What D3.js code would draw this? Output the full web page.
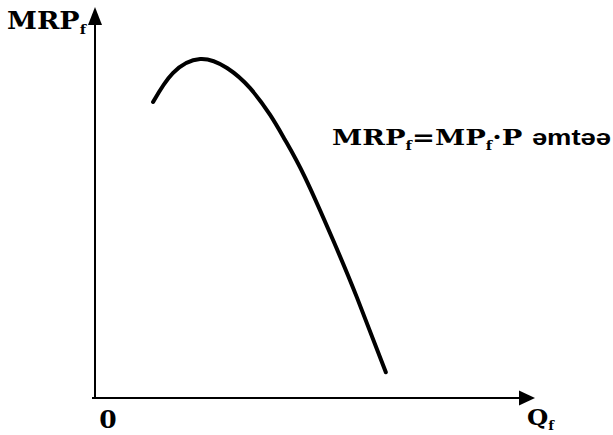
<!DOCTYPE html>
<meta charset="utf-8">
<style>
body { margin: 0; background: #fff; }
svg { display: block; }
.curve { fill: none; stroke: #000; stroke-width: 4px; stroke-linecap: round; stroke-linejoin: round; }
.axis-line { stroke: #000; stroke-width: 2px; }
.lbl { font-family: "DejaVu Serif", "Liberation Serif", serif; font-weight: bold; fill: #000; }
</style>
<svg width="613" height="435"></svg>
<script src="https://d3js.org/d3.v7.min.js"></script>
<script>

// MRP curve (Q, MRP) in arbitrary units
var qValues = [1.32, 1.77, 2.39, 3.00, 3.52, 3.98, 4.32, 4.77, 5.41, 5.95, 6.61];
var mrpValues = [7.57, 8.31, 8.67, 8.44, 7.93, 7.24, 6.60, 5.65, 4.04, 2.58, 0.66];

var svg = d3.select("svg");

var x = d3.scaleLinear().domain([0, 10]).range([95, 535]);
var y = d3.scaleLinear().domain([0, 10]).range([398, 7]);

// axes
svg.append("line").attr("class", "axis-line")
    .attr("x1", x(0) - 3).attr("y1", y(0)).attr("x2", x(10) - 10).attr("y2", y(0));
svg.append("line").attr("class", "axis-line")
    .attr("x1", x(0)).attr("y1", y(0) + 1).attr("x2", x(0)).attr("y2", y(10) + 12);

// arrowheads
svg.append("path")
    .attr("d", "M" + x(10) + "," + y(0) + "l-16,-7.5l0,15z")
    .attr("fill", "#000");
svg.append("path")
    .attr("d", "M" + x(0) + "," + y(10) + "l-7,18l14,0z")
    .attr("fill", "#000");

var line = d3.line()
    .x(function(d, i) { return x(qValues[i]); })
    .y(function(d, i) { return y(mrpValues[i]); })
    .curve(d3.curveNatural);

svg.append("path").datum(qValues).attr("class", "curve").attr("d", line);

// labels
var t = svg.append("text").attr("class", "lbl").attr("x", 7).attr("y", 29)
    .attr("textLength", 79).attr("lengthAdjust", "spacingAndGlyphs")
    .style("font-size", "24px");
t.append("tspan").text("MRP");
t.append("tspan").attr("dy", 5).style("font-size", "13px").text("f");

svg.append("text").attr("class", "lbl").attr("x", 108).attr("y", 428)
    .attr("text-anchor", "middle").style("font-size", "25px").text("0");

var q = svg.append("text").attr("class", "lbl").attr("x", 527).attr("y", 425)
    .attr("textLength", 27).attr("lengthAdjust", "spacingAndGlyphs")
    .style("font-size", "22px");
q.append("tspan").text("Q");
q.append("tspan").attr("dy", 5).style("font-size", "12px").text("f");

var m = svg.append("text").attr("class", "lbl").attr("x", 332).attr("y", 145)
    .attr("textLength", 279).attr("lengthAdjust", "spacingAndGlyphs")
    .style("font-size", "22px");
m.append("tspan").text("MRP");
m.append("tspan").attr("dy", 5).style("font-size", "12px").text("f");
m.append("tspan").attr("dy", -5).text("=MP");
m.append("tspan").attr("dy", 5).style("font-size", "12px").text("f");
m.append("tspan").attr("dy", -5).text("·P ");
m.append("tspan").style("font-family", "'Liberation Sans', Arial, sans-serif").text("əmtəə");

</script>
